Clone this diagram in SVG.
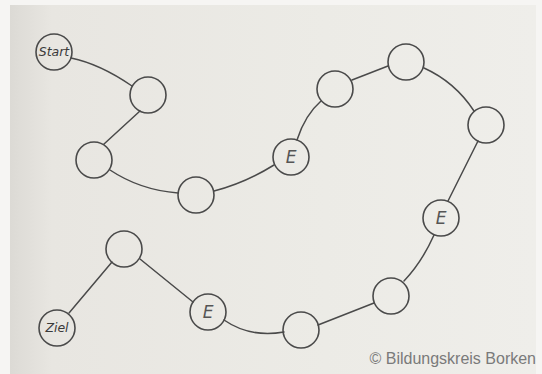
<svg xmlns="http://www.w3.org/2000/svg" width="542" height="374" viewBox="0 0 542 374">
  <defs>
    <linearGradient id="paper" x1="0" y1="0" x2="1" y2="0">
      <stop offset="0" stop-color="#dcdad5"/>
      <stop offset="0.08" stop-color="#e8e6e1"/>
      <stop offset="0.6" stop-color="#ecebe6"/>
      <stop offset="1" stop-color="#efeeea"/>
    </linearGradient>
    <style>
      .node circle { fill: none; stroke: #4a4a4a; stroke-width: 1.6; }
      .edges path { fill: none; stroke: #4a4a4a; stroke-width: 1.5; stroke-linecap: round; }
      .lbl { font-family: "DejaVu Sans", "Liberation Sans", sans-serif; fill: #3a3a3a; text-anchor: middle; }
      .small { font-size: 12.5px; font-style: italic; }
      .e { font-size: 17px; font-style: italic; font-weight: 300; fill: #555; }
      .copy { font-family: "Liberation Sans", Arial, sans-serif; font-size: 16px; fill: #7a7a7a; text-anchor: end; }
    </style>
  </defs>
  <rect width="542" height="374" fill="#f6f5f3"/>
  <rect x="10" y="5" width="526" height="369" fill="url(#paper)"/>

  <g class="edges" id="connectors">
    <path d="M71,58 Q100,64 132,86"/>
    <path d="M140,111 L104,144"/>
    <path d="M110,170 Q140,190 178,193"/>
    <path d="M214,191 Q245,183 274,165"/>
    <path d="M297,140 Q305,115 321,101"/>
    <path d="M352,80 L388,66"/>
    <path d="M424,68 Q455,82 474,111"/>
    <path d="M478,141 L448,201"/>
    <path d="M434,235 Q422,262 404,281"/>
    <path d="M374,303 L318,325"/>
    <path d="M284,332 Q250,338 224,320"/>
    <path d="M193,302 L140,259"/>
    <path d="M112,262 L69,313"/>
  </g>

  <g class="node" id="start"><circle cx="54" cy="52" r="18"/><text class="lbl small" x="54" y="56">Start</text></g>
  <g class="node" id="n2"><circle cx="148" cy="95" r="18"/></g>
  <g class="node" id="n3"><circle cx="94" cy="160" r="18"/></g>
  <g class="node" id="n4"><circle cx="196" cy="195" r="18"/></g>
  <g class="node" id="e1"><circle cx="291" cy="157" r="18"/><text class="lbl e" x="291" y="163">E</text></g>
  <g class="node" id="n6"><circle cx="335" cy="89" r="18"/></g>
  <g class="node" id="n7"><circle cx="406" cy="62" r="18"/></g>
  <g class="node" id="n8"><circle cx="486" cy="125" r="18"/></g>
  <g class="node" id="e2"><circle cx="441" cy="218" r="18"/><text class="lbl e" x="441" y="224">E</text></g>
  <g class="node" id="n10"><circle cx="391" cy="296" r="18"/></g>
  <g class="node" id="n11"><circle cx="301" cy="330" r="18"/></g>
  <g class="node" id="e3"><circle cx="208" cy="312" r="18"/><text class="lbl e" x="208" y="318">E</text></g>
  <g class="node" id="n13"><circle cx="124" cy="249" r="18"/></g>
  <g class="node" id="ziel"><circle cx="57" cy="328" r="18"/><text class="lbl small" x="57" y="332">Ziel</text></g>

  <text class="copy" x="536" y="364">© Bildungskreis Borken</text>
</svg>
